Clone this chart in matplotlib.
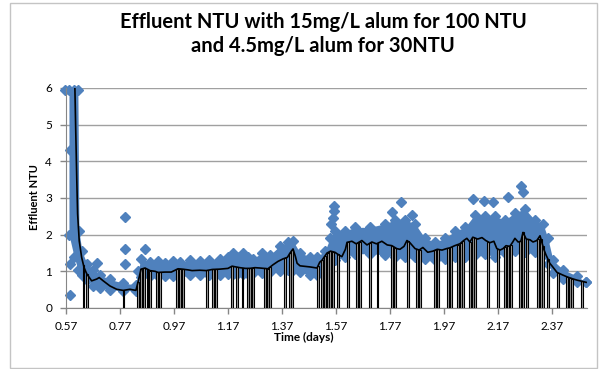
import numpy as np
import matplotlib
matplotlib.use("Agg")
import matplotlib.pyplot as plt
from matplotlib.patches import Rectangle

# ---------------- data ----------------
title_lines = ["Effluent NTU with 15mg/L alum for 100 NTU", "and 4.5mg/L alum for 30NTU"]
x_label = "Time (days)"
y_label = "Effluent NTU"
xtick_vals = [0.57, 0.77, 0.97, 1.17, 1.37, 1.57, 1.77, 1.97, 2.17, 2.37]
xtick_labels = ["0.57", "0.77", "0.97", "1.17", "1.37", "1.57", "1.77", "1.97", "2.17", "2.37"]
ytick_vals = [0, 1, 2, 3, 4, 5, 6]

# moving-average line (black)
line_t = [0.603, 0.606, 0.610, 0.613, 0.619, 0.628, 0.637, 0.647, 0.665, 0.684, 0.693, 0.708, 0.733, 0.758,
          0.782, 0.807, 0.829, 0.838, 0.848, 0.863, 0.881, 0.900, 0.911, 0.937, 0.960, 0.985, 1.000, 1.022,
          1.037, 1.066, 1.090, 1.111, 1.140, 1.170, 1.185, 1.214, 1.235, 1.251, 1.270, 1.289, 1.318, 1.337,
          1.355, 1.374, 1.390, 1.400, 1.411, 1.420, 1.426, 1.437, 1.474, 1.500, 1.510, 1.518, 1.537, 1.550,
          1.566, 1.580, 1.592, 1.605, 1.611, 1.629, 1.645, 1.666, 1.685, 1.703, 1.720, 1.740, 1.760, 1.777,
          1.795, 1.807, 1.822, 1.833, 1.844, 1.863, 1.878, 1.892, 1.910, 1.929, 1.945, 1.963, 1.980, 1.992,
          2.010, 2.029, 2.045, 2.055, 2.066, 2.077, 2.095, 2.111, 2.125, 2.140, 2.155, 2.166, 2.178, 2.189,
          2.200, 2.214, 2.225, 2.233, 2.245, 2.255, 2.263, 2.275, 2.289, 2.300, 2.314, 2.326, 2.340, 2.348,
          2.355, 2.362, 2.370, 2.389, 2.410, 2.426, 2.445, 2.463, 2.480, 2.497]
line_v = [5.98, 4.85, 3.48, 2.57, 1.83, 1.38, 1.10, 0.93, 0.74, 0.79, 0.83, 0.74, 0.60, 0.51,
          0.48, 0.51, 0.48, 0.74, 1.06, 1.09, 1.02, 1.00, 0.97, 0.98, 0.98, 1.07, 1.06, 1.04,
          1.02, 1.03, 1.02, 1.05, 1.06, 1.08, 1.14, 1.10, 1.08, 1.08, 1.10, 1.09, 1.07, 1.18,
          1.27, 1.34, 1.38, 1.50, 1.61, 1.40, 1.22, 1.15, 1.12, 1.09, 1.25, 1.30, 1.50, 1.55,
          1.52, 1.45, 1.40, 1.60, 1.79, 1.82, 1.75, 1.84, 1.72, 1.80, 1.75, 1.82, 1.72, 1.70,
          1.62, 1.60, 1.68, 1.84, 1.78, 1.62, 1.58, 1.65, 1.52, 1.55, 1.60, 1.58, 1.62, 1.64,
          1.70, 1.75, 1.85, 1.90, 1.80, 1.93, 1.88, 1.92, 1.84, 1.78, 1.82, 1.62, 1.58, 1.62,
          1.70, 1.68, 1.80, 1.90, 1.80, 1.82, 2.06, 1.88, 1.86, 1.80, 1.84, 1.97, 1.60, 1.45,
          1.34, 1.22, 1.15, 0.97, 0.90, 0.85, 0.80, 0.76, 0.73, 0.70]

# times where the averaged series drops to zero
drop_t = [0.635, 0.648, 0.783, 0.837, 0.848, 0.859, 0.872, 0.881, 0.907, 0.918, 0.981, 0.992, 1.003,
          1.092, 1.114, 1.126, 1.185, 1.203, 1.224, 1.244, 1.252, 1.264, 1.307, 1.318, 1.326, 1.381,
          1.400, 1.407, 1.503, 1.518, 1.529, 1.540, 1.548, 1.559, 1.576, 1.614, 1.648, 1.659, 1.696,
          1.724, 1.777, 1.789, 1.837, 1.870, 1.881, 1.937, 1.948, 1.985, 1.996, 2.022, 2.033, 2.040,
          2.066, 2.077, 2.085, 2.133, 2.170, 2.196, 2.207, 2.218, 2.252, 2.263, 2.277, 2.318, 2.329,
          2.337, 2.355, 2.392, 2.426, 2.437, 2.444, 2.481]

# dense effluent readings (blue diamonds): lower / upper envelope of the cloud
band_t = [0.581, 0.600, 0.614, 0.618, 0.629, 0.648, 0.670, 0.696, 0.733, 0.781, 0.829, 0.837, 0.848, 0.881,
          0.910, 0.937, 0.965, 0.992, 1.030, 1.066, 1.100, 1.140, 1.170, 1.189, 1.205, 1.226, 1.245, 1.263,
          1.296, 1.326, 1.363, 1.392, 1.411, 1.437, 1.474, 1.500, 1.529, 1.548, 1.566, 1.603, 1.640, 1.696,
          1.751, 1.789, 1.826, 1.863, 1.900, 1.937, 1.974, 2.011, 2.048, 2.085, 2.122, 2.159, 2.196, 2.233,
          2.270, 2.307, 2.337, 2.355, 2.374, 2.411, 2.463, 2.496]
band_lo = [2.00, 1.40, 1.05, 1.03, 0.90, 0.76, 0.60, 0.55, 0.50, 0.47, 0.47, 0.55, 0.85, 0.88,
           0.88, 0.88, 0.88, 0.90, 0.89, 0.89, 0.90, 0.90, 0.92, 0.92, 0.92, 0.92, 0.92, 0.95,
           0.95, 0.98, 1.00, 1.05, 1.05, 0.98, 0.90, 0.90, 1.03, 1.20, 1.30, 1.40, 1.48, 1.48,
           1.45, 1.40, 1.39, 1.39, 1.35, 1.30, 1.35, 1.40, 1.40, 1.45, 1.48, 1.40, 1.50, 1.55,
           1.52, 1.52, 1.45, 1.20, 0.95, 0.80, 0.72, 0.70]
band_hi = [5.95, 5.95, 5.95, 2.10, 1.55, 1.20, 1.05, 0.90, 0.78, 0.68, 0.63, 1.00, 1.35, 1.25,
           1.28, 1.22, 1.27, 1.25, 1.30, 1.28, 1.32, 1.35, 1.38, 1.50, 1.38, 1.50, 1.40, 1.35,
           1.50, 1.45, 1.70, 1.80, 1.83, 1.50, 1.40, 1.40, 1.55, 1.90, 2.10, 2.10, 2.20, 2.20,
           2.30, 2.40, 2.40, 2.30, 1.90, 1.80, 1.90, 2.10, 2.20, 2.55, 2.50, 2.50, 2.40, 2.60,
           2.70, 2.40, 2.30, 1.90, 1.30, 1.05, 0.87, 0.70]

# isolated readings outside the main cloud
out_t = [0.566, 0.585, 0.585, 0.585, 0.684, 0.790, 0.790, 0.790, 0.862, 1.553, 1.558, 1.562, 1.563,
         1.777, 1.812, 1.852, 2.077, 2.118, 2.152, 2.207, 2.255, 2.262]
out_v = [5.95, 4.30, 1.20, 0.35, 1.24, 2.47, 1.62, 1.20, 1.60, 2.30, 2.45, 2.65, 2.79,
         2.61, 2.88, 2.55, 2.98, 2.93, 2.88, 3.02, 3.34, 3.16]

# ---------------- drawing ----------------
W, H = 599, 369
fig = plt.figure(figsize=(W / 100, H / 100), dpi=100)
fig.patch.set_facecolor("white")
fig.patches.append(Rectangle((10 / W, 1.5 / H), 587 / W, 365 / H, transform=fig.transFigure,
                             fill=False, edgecolor="#c4c4c4", linewidth=1))

ax = fig.add_axes([66 / W, 1 - 308 / H, (587 - 66) / W, (308 - 88) / H])
blue = "#4F81BD"
msize = 5.2
ax.fill_between(band_t, band_lo, band_hi, color=blue, linewidth=0, zorder=2)
ax.plot(band_t, band_lo, linestyle="none", marker="D", markersize=msize, color=blue, zorder=2, clip_on=False)
ax.plot(band_t, band_hi, linestyle="none", marker="D", markersize=msize, color=blue, zorder=2, clip_on=False)
ax.plot(out_t, out_v, linestyle="none", marker="D", markersize=msize, color=blue, zorder=2, clip_on=False)

drop_h = np.interp(drop_t, line_t, line_v)
ax.bar(drop_t, drop_h, width=0.007, color="#a0a0a0", edgecolor="black", linewidth=0.8, zorder=3)
ax.plot(line_t, line_v, color="black", linewidth=1.2, zorder=4)

ax.set_xlim(0.57, 2.5)
ax.set_ylim(0, 6)
ax.set_xticks(xtick_vals)
ax.set_xticklabels(xtick_labels)
ax.set_yticks(ytick_vals)
ax.yaxis.grid(True, color="#a0a0a0", linewidth=1)
ax.set_axisbelow(True)
for s in ["top", "right"]:
    ax.spines[s].set_visible(False)
for s in ["left", "bottom"]:
    ax.spines[s].set_color("#868686")
ax.tick_params(axis="both", colors="#868686", labelcolor="black", labelsize=8.5, length=4, width=1)
ax.tick_params(axis="x", pad=5)
ax.tick_params(axis="y", pad=6)
for lab in ax.get_xticklabels() + ax.get_yticklabels():
    lab.set_family("Lato")

fig.text(323 / W, 1 - 22 / H, title_lines[0], ha="center", va="center", fontsize=14.5,
         fontweight="bold", family="Lato")
fig.text(323 / W, 1 - 46 / H, title_lines[1], ha="center", va="center", fontsize=14.5,
         fontweight="bold", family="Lato")
fig.text(35 / W, 1 - 197 / H, y_label, ha="center", va="center", rotation=90, fontsize=8,
         fontweight="bold", family="Lato")
fig.text(304 / W, 1 - 337 / H, x_label, ha="center", va="center", fontsize=8.5,
         fontweight="bold", family="Lato")

fig.savefig("out.png", dpi=100)
